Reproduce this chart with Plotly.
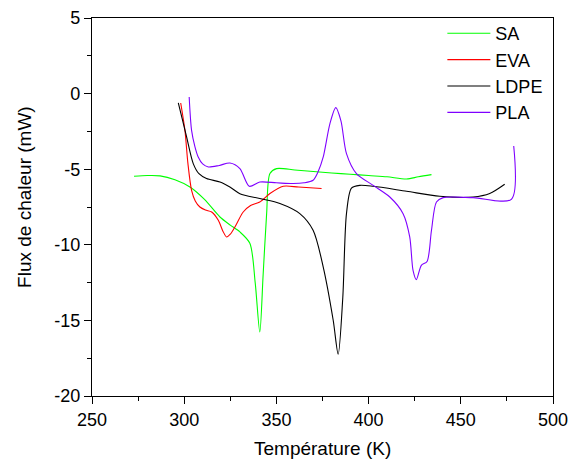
import plotly.graph_objects as go

# SA
sa_x = [272.8, 280, 286.9, 295, 303.1, 311, 319.4, 325, 330.2, 335.6, 338.5, 341.0, 342.8, 344.7, 346.5, 350.1, 360, 370, 380, 390, 400, 410, 420.6, 427, 434.1]
sa_y = [-5.47, -5.42, -5.44, -5.7, -6.18, -7.0, -8.16, -8.7, -9.15, -9.9, -12.5, -15.77, -12.0, -7.94, -5.29, -4.96, -5.05, -5.15, -5.25, -5.33, -5.42, -5.5, -5.65, -5.5, -5.36]

# EVA
eva_x = [298.1, 300.4, 302.0, 304.0, 306.0, 308.5, 311.5, 314.9, 318.5, 321.0, 323.0, 325.0, 327.5, 332.0, 336.0, 341.0, 346.5, 353.7, 362, 374.5]
eva_y = [-0.62, -2.43, -4.6, -6.4, -7.1, -7.5, -7.7, -7.83, -8.38, -9.1, -9.48, -9.3, -8.82, -7.83, -7.4, -7.17, -6.61, -6.13, -6.18, -6.28]

# LDPE
ldpe_x = [296.8, 299, 301.3, 304.9, 308, 312.1, 319.4, 325, 330.2, 341.0, 351.9, 362.7, 369.9, 375.4, 380.8, 383.5, 386.0, 388.0, 390.7, 395.2, 402.5, 420.6, 438.6, 456.7, 465.7, 473.8]
ldpe_y = [-0.62, -1.7, -2.87, -4.63, -5.3, -5.62, -5.85, -6.2, -6.62, -6.94, -7.27, -7.94, -9.04, -11.47, -14.99, -17.24, -13.5, -7.94, -6.25, -6.07, -6.13, -6.46, -6.79, -6.84, -6.61, -6.0]

# PLA
pla_x = [302.7, 304.0, 305.8, 307.6, 310, 313.1, 319, 324.8, 330.2, 335.3, 341.0, 350, 359.0, 365, 369.9, 372.5, 375.4, 379, 382.2, 385, 388.0, 393.4, 402.5, 411.5, 418.7, 422.3, 424.1, 425.9, 428.6, 431.7, 434.1, 436.8, 440.4, 456.7, 477.4, 478.7]
pla_y = [-0.22, -2.43, -3.5, -4.19, -4.65, -4.85, -4.75, -4.59, -4.96, -6.13, -5.85, -5.9, -5.95, -5.9, -5.73, -5.2, -4.19, -2.0, -0.93, -1.8, -3.97, -5.29, -6.07, -6.84, -7.94, -9.48, -11.69, -12.3, -11.36, -11.1, -9.04, -7.17, -6.88, -6.88, -6.99, -3.47]

x_ticks = [250, 300, 350, 400, 450, 500]
y_ticks = [5, 0, -5, -10, -15, -20]

FONT = "Liberation Sans, Arial, sans-serif"

fig = go.Figure()
series = [("SA", sa_x, sa_y, "#00ff00"),
          ("EVA", eva_x, eva_y, "#ff0000"),
          ("LDPE", ldpe_x, ldpe_y, "#000000"),
          ("PLA", pla_x, pla_y, "#7f00ff")]
for name, xs, ys, col in series:
    fig.add_trace(go.Scatter(x=xs, y=ys, mode="lines", name=name,
                             line=dict(color=col, width=1.1, shape="spline", smoothing=0.8)))

axis_common = dict(showgrid=False, zeroline=False, showline=True, linecolor="#000000", linewidth=1.3,
                   mirror=True, ticks="outside", ticklen=7, tickwidth=1.2, tickcolor="#000000",
                   automargin=False,
                   tickfont=dict(family=FONT, size=18, color="#000000"))
fig.update_xaxes(range=[250, 500], tickvals=x_ticks, ticktext=[str(v) for v in x_ticks],
                 minor=dict(dtick=25, tick0=250, ticks="outside", ticklen=3.5, tickwidth=1.2, tickcolor="#000000"),
                 **axis_common)
fig.update_yaxes(range=[-20, 5], tickvals=y_ticks, ticktext=[str(v) for v in y_ticks],
                 minor=dict(dtick=2.5, tick0=0, ticks="outside", ticklen=3.5, tickwidth=1.2, tickcolor="#000000"),
                 **axis_common)

fig.add_annotation(text="Température (K)", xref="paper", yref="paper", x=0.5, y=-0.14,
                   xanchor="center", yanchor="middle", showarrow=False,
                   font=dict(family=FONT, size=19, color="#000000"))
fig.add_annotation(text="Flux de chaleur (mW)", xref="paper", yref="paper", x=-0.145, y=0.527,
                   xanchor="center", yanchor="middle", showarrow=False, textangle=-90,
                   font=dict(family=FONT, size=19, color="#000000"))

fig.update_layout(width=573, height=466, plot_bgcolor="white", paper_bgcolor="white",
                  margin=dict(l=92, r=20, t=18, b=70),
                  legend=dict(x=0.76, y=1.008, xanchor="left", yanchor="top", bgcolor="rgba(0,0,0,0)",
                              font=dict(family=FONT, size=18, color="#000000"), tracegroupgap=0,
                              itemwidth=43))
fig.write_html("out.html", config={"displayModeBar": False},
               post_script="document.body.style.margin='0';document.body.style.overflow='hidden';")
